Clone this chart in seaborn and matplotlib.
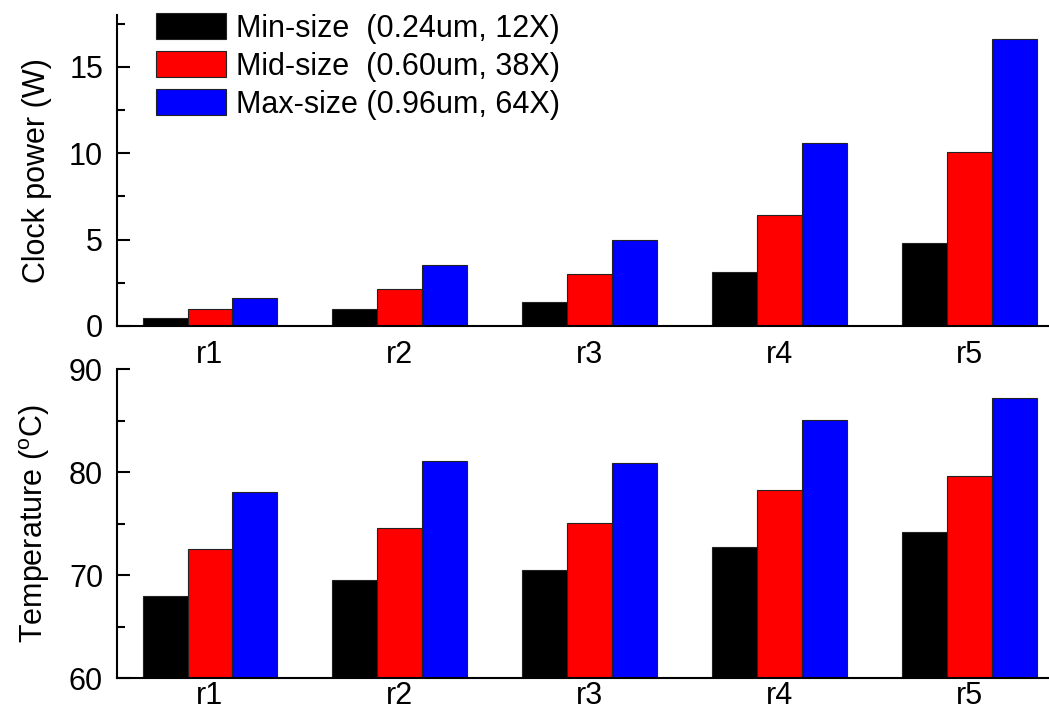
import pandas as pd
import matplotlib
matplotlib.use("Agg")
import matplotlib.pyplot as plt
from matplotlib.patches import Patch
from matplotlib.ticker import MultipleLocator
import seaborn as sns

regions = ["r1", "r2", "r3", "r4", "r5"]
sizes = ["Min-size  (0.24um, 12X)", "Mid-size  (0.60um, 38X)", "Max-size (0.96um, 64X)"]
colors = ["#000000", "#ff0000", "#0000ff"]

power_min = [0.48, 1.01, 1.37, 3.11, 4.82]
power_mid = [0.98, 2.14, 3.03, 6.43, 10.08]
power_max = [1.64, 3.53, 4.98, 10.61, 16.62]

temp_min = [67.96, 69.48, 70.45, 72.75, 74.2]
temp_mid = [72.5, 74.52, 75.05, 78.25, 79.6]
temp_max = [78.1, 81.03, 80.87, 85.05, 87.15]


def long_form(series):
    rows = []
    for size, vals in zip(sizes, series):
        for r, v in zip(regions, vals):
            rows.append({"region": r, "size": size, "value": v})
    return pd.DataFrame(rows)


power_df = long_form([power_min, power_mid, power_max])
temp_df = long_form([temp_min, temp_mid, temp_max])

sns.set_style("ticks")
plt.rcParams["font.family"] = ["Liberation Sans", "DejaVu Sans"]
plt.rcParams["mathtext.fontset"] = "custom"
plt.rcParams["mathtext.rm"] = "Liberation Sans"
for key in ["text.color", "axes.labelcolor", "xtick.color", "ytick.color", "axes.edgecolor"]:
    plt.rcParams[key] = "black"

fig = plt.figure(figsize=(10.49, 7.18), dpi=100)
ax1 = fig.add_axes([0.1115, 0.546, 0.8885, 0.433])
ax2 = fig.add_axes([0.1115, 0.0557, 0.8885, 0.4303])

for ax, df in [(ax1, power_df), (ax2, temp_df)]:
    sns.barplot(data=df, x="region", y="value", hue="size", hue_order=sizes,
                palette=colors, width=0.71, edgecolor="#222222", linewidth=0.8,
                saturation=1, legend=False, ax=ax)
    ax.set_xlim(-0.49, 4.42)
    ax.set_xlabel("")
    sns.despine(ax=ax)
    ax.spines["left"].set_linewidth(1.5)
    ax.spines["bottom"].set_linewidth(1.5)
    ax.tick_params(axis="x", length=0, labelsize=22)
    ax.tick_params(axis="y", which="major", direction="in", length=9,
                   width=1.5, labelsize=22, pad=10)
    ax.tick_params(axis="y", which="minor", direction="in", length=6, width=1.5)

ax1.set_ylim(0, 18)
ax1.yaxis.set_major_locator(MultipleLocator(5))
ax1.yaxis.set_minor_locator(MultipleLocator(2.5))
ax1.set_ylabel("Clock power (W)", fontsize=22, labelpad=12)
ax1.tick_params(axis="x", pad=10)

ax2.set_ylim(60, 90)
ax2.yaxis.set_major_locator(MultipleLocator(10))
ax2.yaxis.set_minor_locator(MultipleLocator(5))
ax2.set_ylabel(r"Temperature ($^{\mathrm{o}}$C)", fontsize=22, labelpad=12)
ax2.tick_params(axis="x", pad=2)

handles = [Patch(facecolor=c, edgecolor="#222222", linewidth=0.8) for c in colors]
ax1.legend(handles, sizes, loc="upper left", bbox_to_anchor=(0.029, 1.045),
           frameon=False, fontsize=22, handlelength=2.3, handleheight=0.92,
           labelspacing=0.25, handletextpad=0.3, borderaxespad=0)

fig.savefig("out.png", dpi=100)
